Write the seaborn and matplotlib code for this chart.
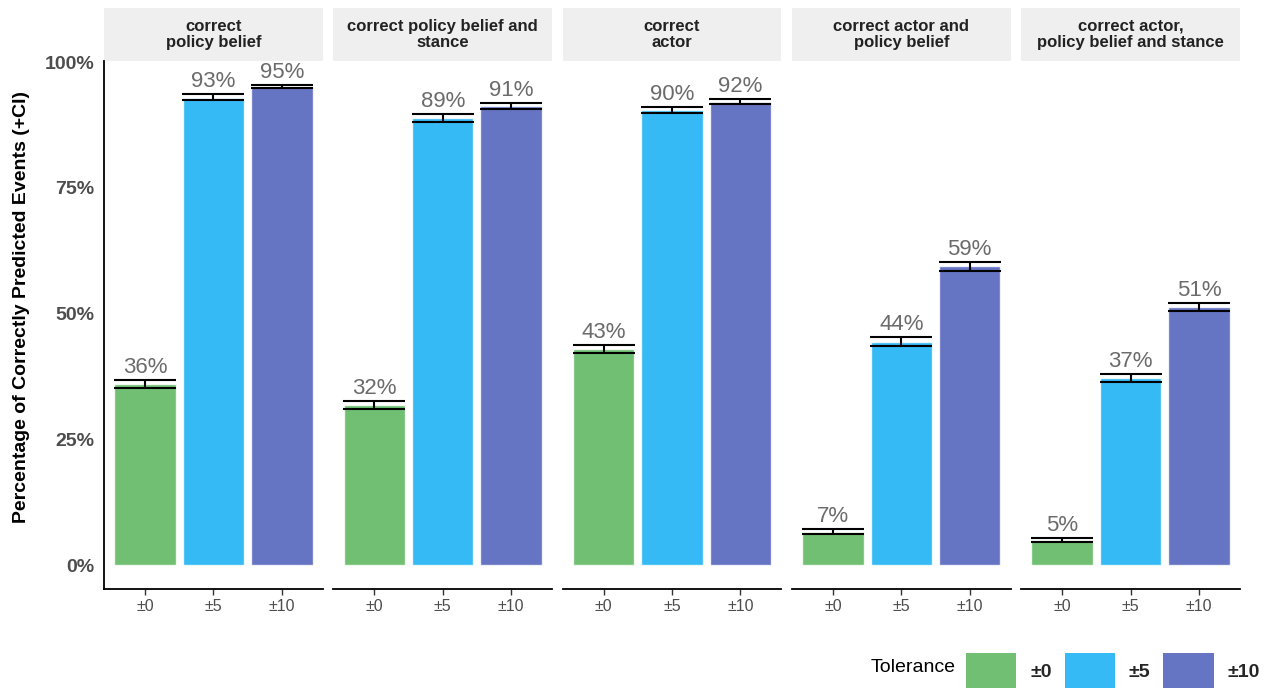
import matplotlib
matplotlib.use("Agg")
import numpy as np
import pandas as pd
import matplotlib.pyplot as plt
import seaborn as sns
from matplotlib.patches import Patch, Rectangle

facets = [
    "correct\npolicy belief",
    "correct policy belief and\nstance",
    "correct\nactor",
    "correct actor and\npolicy belief",
    "correct actor,\npolicy belief and stance",
]
tolerances = ["±0", "±5", "±10"]
colors = ["#4CAF50", "#03A9F4", "#3F51B5"]

# percentage of correctly predicted events, per tolerance (one value per facet)
pct_0 = [36.0, 31.8, 42.9, 6.7, 5.0]
pct_5 = [92.9, 88.8, 90.4, 44.4, 37.2]
pct_10 = [95.1, 91.3, 92.1, 59.4, 51.3]

# confidence intervals
lo_0 = [35.2, 31.0, 42.2, 6.2, 4.6]
hi_0 = [36.8, 32.6, 43.8, 7.2, 5.4]
lo_5 = [92.4, 88.1, 89.8, 43.5, 36.4]
hi_5 = [93.6, 89.6, 91.0, 45.3, 38.0]
lo_10 = [94.8, 90.7, 91.6, 58.5, 50.5]
hi_10 = [95.4, 91.8, 92.6, 60.3, 52.2]

rows = []
for tol, pct, lo, hi in zip(tolerances, [pct_0, pct_5, pct_10],
                            [lo_0, lo_5, lo_10], [hi_0, hi_5, hi_10]):
    for f, p, l, h in zip(facets, pct, lo, hi):
        rows.append({"facet": f, "tolerance": tol, "pct": p, "lo": l, "hi": h})
df = pd.DataFrame(rows)

sns.set_theme(style="white")
plt.rcParams["font.family"] = ["Liberation Sans", "DejaVu Sans"]

W, H = 1271, 689
fig, axes = plt.subplots(1, 5, figsize=(W / 100, H / 100), dpi=100, sharey=True)
fig.subplots_adjust(left=104 / W, right=1240 / W, top=1 - 61 / H,
                    bottom=1 - 589 / H, wspace=0.048)

for ax, facet in zip(axes, facets):
    sub = df[df["facet"] == facet].set_index("tolerance").loc[tolerances].reset_index()
    ax.set_axisbelow(True)
    ax.grid(axis="x", color="#EBEBEB", linewidth=1.1)
    ax.grid(axis="y", visible=False)
    sns.barplot(data=sub, x="tolerance", y="pct", hue="tolerance",
                order=tolerances, hue_order=tolerances, palette=colors,
                saturation=1, alpha=0.8, width=0.9, errorbar=None,
                legend=False, ax=ax, zorder=2)
    xs = np.arange(len(tolerances))
    ax.errorbar(xs, sub["pct"], yerr=[sub["pct"] - sub["lo"], sub["hi"] - sub["pct"]],
                fmt="none", ecolor="black", elinewidth=1.5, capsize=22.2,
                capthick=1.5, zorder=3)
    for x, p, h in zip(xs, sub["pct"], sub["hi"]):
        ax.annotate(f"{round(p)}%", (x, h), xytext=(0, 5), textcoords="offset points",
                    ha="center", va="baseline", fontsize=16, color="#6B6B6B",
                    zorder=4, annotation_clip=False)

    ax.set_xlim(-0.6, 2.6)
    ax.set_ylim(-4.7, 100.2)
    ax.set_xlabel("")
    ax.set_ylabel("")
    for s in ["top", "right", "left"]:
        ax.spines[s].set_visible(False)
    ax.spines["bottom"].set_color("black")
    ax.spines["bottom"].set_linewidth(1.3)
    ax.tick_params(axis="x", length=4, width=1, color="#333333",
                   labelsize=11.5, labelcolor="#4D4D4D", pad=3, bottom=True)
    ax.tick_params(axis="y", length=0)

    # facet strip
    ax.add_patch(Rectangle((0, 1), 1, 53 / 528, transform=ax.transAxes,
                           facecolor="#EFEFEF", edgecolor="none", clip_on=False))
    ax.text(0.5, 1 + 26.5 / 528, facet, transform=ax.transAxes, ha="center",
            va="center", fontsize=12, fontweight="bold", color="#222222",
            linespacing=1.1)

axes[0].spines["left"].set_visible(True)
axes[0].spines["left"].set_color("black")
axes[0].spines["left"].set_linewidth(1.3)
yt = [0, 25, 50, 75, 100]
axes[0].set_yticks(yt)
axes[0].set_yticklabels([f"{t}%" for t in yt], fontsize=14, fontweight="bold",
                        color="#4D4D4D")
axes[0].tick_params(axis="y", pad=7)

fig.text(22 / W, 1 - 307 / H, "Percentage of Correctly Predicted Events (+CI)",
         rotation=90, ha="center", va="center", fontsize=14, fontweight="bold",
         color="black")

handles = [Patch(facecolor=c, alpha=0.8, edgecolor="none") for c in colors]
fig.legend(handles, tolerances, ncol=3, loc="lower right",
           bbox_to_anchor=(1260 / W, 1 / H), frameon=False, borderpad=0,
           borderaxespad=0, handlelength=2.58, handleheight=2.37,
           handletextpad=0.72, columnspacing=0.67,
           prop={"weight": "bold", "size": 14})
fig.text(956 / W, 1 - 668 / H, "Tolerance", ha="right", va="center",
         fontsize=14, color="black")

fig.savefig("out.png", dpi=100)
